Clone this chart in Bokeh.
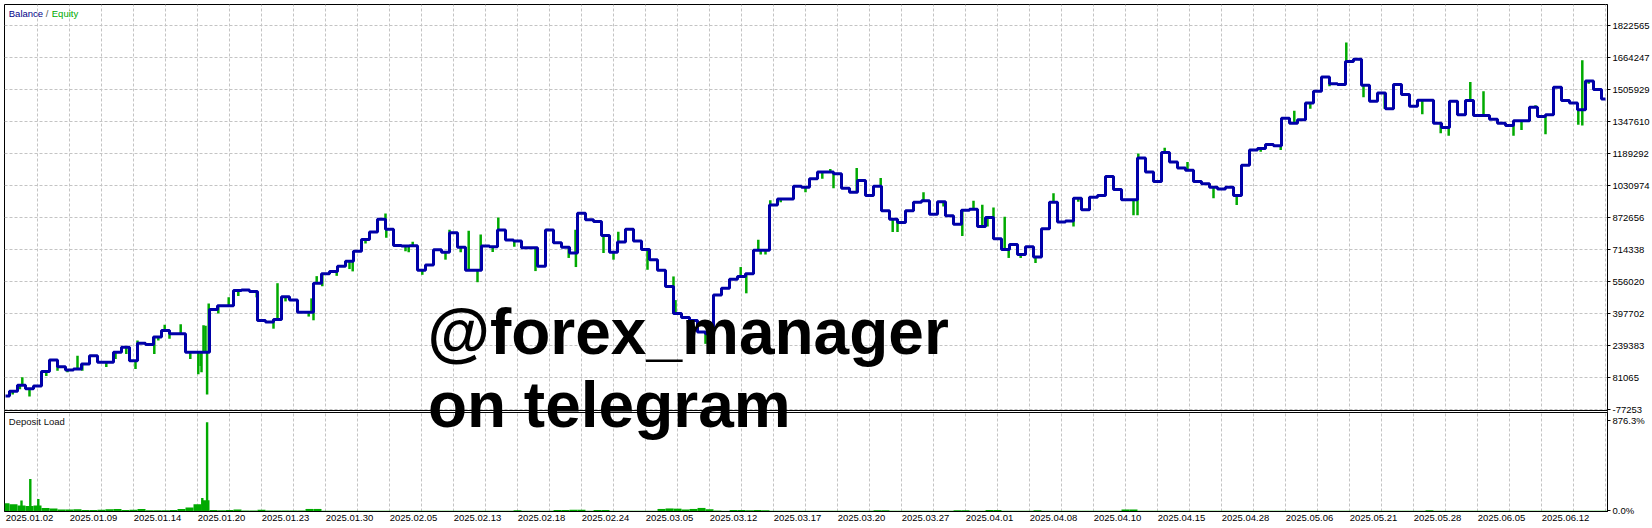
from bokeh.plotting import figure
from bokeh.models import Range1d, FixedTicker, Span, Label, BoxAnnotation
from bokeh.embed import file_html
from bokeh.resources import INLINE

# ---------------- data ----------------
balance = [
    -9935, 12565, 42565, 25065, 39065, 111065, 167565, 134065, 117565, 122565,
    147565, 189065, 156065, 156065, 206065, 231065, 164065, 251065, 244065, 281065,
    314065, 297565, 297565, 206065, 206065, 206065, 417565, 436065, 436065, 511065,
    514000, 506065, 363065, 356065, 367565, 481065, 464065, 404065, 404065, 547565,
    594065, 606065, 631065, 656065, 706065, 764065, 801065, 864065, 814065, 734065,
    731065, 732565, 611065, 637565, 712565, 701065, 797565, 726065, 611065, 611065,
    731065, 727565, 811065, 761065, 756065, 722565, 722565, 631065, 811065, 747565,
    726065, 697565, 894065, 861065, 852565, 784065, 701065, 751065, 814065, 756065,
    714065, 664065, 611065, 531065, 397565, 377565, 363065, 306065, 297565, 489065,
    522565, 567565, 581065, 594065, 711065, 711065, 934065, 964065, 964065, 1027565,
    1022565, 1064065, 1097565, 1097565, 1089065, 1017565, 997565, 1056065, 981065, 1027565,
    906065, 864065, 847565, 906065, 947565, 956065, 889065, 951065, 881065, 839065,
    909065, 914065, 827565, 872565, 767565, 714065, 739065, 689065, 727565, 677565,
    817565, 947565, 850565, 855565, 967565, 911065, 972565, 981065, 1076065, 1011065,
    961065, 961065, 1167565, 1097565, 1051065, 1194065, 1147565, 1117565, 1106065, 1051065,
    1040000, 1022565, 1014065, 1022565, 981065, 1131065, 1206065, 1214065, 1234065, 1227565,
    1364065, 1339065, 1356065, 1439065, 1497565, 1567565, 1534065, 1531065, 1644065, 1656065,
    1527565, 1447565, 1489065, 1411065, 1531065, 1481065, 1422565, 1452565, 1452565, 1339065,
    1317565, 1447565, 1381065, 1451065, 1377565, 1377565, 1359065, 1339065, 1327565, 1351065,
    1351065, 1417565, 1372565, 1381065, 1517565, 1451065, 1439065, 1406065, 1547565, 1506065,
    1459065,
]
deal = list(range(len(balance)))

# equity excursions (deal position, equity value)
equity_deal = [
    2.1, 3.0, 9.0, 16.25, 16.5, 18.6, 19.9, 21.9, 23.1, 24.1,
    24.4, 24.5, 24.75, 25.0, 25.2, 25.4, 27.9, 31.5, 33.5, 34.0,
    38.25, 38.5, 38.9, 43.4, 47.5, 47.6, 50.9, 52.1, 55.0, 55.5,
    57.9, 59.0, 59.4, 60.9, 61.6, 66.25, 67.75, 70.4, 71.25, 71.3,
    76.0, 76.6, 83.5, 83.75, 87.5, 91.9, 92.6, 94.1, 95.0, 95.6,
    103.1, 103.5, 106.4, 109.4, 111.5, 114.75, 119.6, 121.0, 122.1, 123.5,
    124.9, 125.4, 128.75, 131.0, 133.5, 141.5, 141.6, 144.9, 147.75, 151.0,
    153.9, 159.4, 161.1, 163.1, 167.6, 169.25, 180.4, 183.1, 184.75, 188.5,
    191.25, 192.5, 193.5, 197.1, 197.1, 197.9,
    0.9, 1.8, 5.1, 6.5, 7.75, 9.6, 12.6, 13.75, 15.1, 19.1,
    20.5, 26.6, 29.1, 31.4, 35.0, 36.5, 37.9, 39.6, 41.4, 43.0,
    45.0, 50.0, 50.4, 56.9, 63.6, 74.75, 80.25, 94.4, 96.9, 100.0,
    102.1, 110.9, 117.25, 122.75, 126.9, 134.1, 141.0, 156.9, 165.5, 169.75,
    172.4, 177.1, 179.4, 189.5, 196.6,
]
equity_value = [
    82565, -12435, 189065, 122565, 264065, 197565, 342565, 344065, 172565, 97565,
    137565, 107565, 339065, 337565, -2435, 447565, 477565, 447565, 322565, 547565,
    472565, 364065, 582565, 606065, 892565, 772565, 752565, 589065, 664065, 812565,
    807565, 552565, 789065, 702565, 872565, 607565, 817565, 672565, 812565, 627565,
    664065, 802565, 581065, 464065, 247565, 627565, 497565, 762565, 689065, 957565,
    1112565, 1017565, 1117565, 1067565, 801065, 997565, 781065, 956065, 936065, 922565,
    876065, 672565, 647565, 992565, 827565, 884065, 1189065, 1217565, 1147565, 967565,
    934065, 1206065, 1401065, 1411065, 1739065, 1651065, 1277565, 1542565, 1497565, 1277565,
    1427565, 1284065, 1431065, 1651065, 1327565, 1534065,
    -2435, 22565, 89065, 114065, 107565, 114065, 132565, 172565, 197565, 264065,
    272565, 397565, 484065, 477565, 457565, 447565, 382565, 532565, 584065, 617565,
    744065, 706065, 701065, 701065, 727565, 697565, 614065, 689065, 947565, 997565,
    1064065, 801065, 927565, 827565, 672565, 951065, 884065, 1197565, 1522565, 1467565,
    1411065, 1384065, 1289065, 1306065, 1331065,
]

# deposit load, %
deposit_load = [
    80, 70, 60, 55, 60, 35, 30, 20, 20, 22,
    15, 15, 18, 22, 25, 15, 18, 25, 12, 12,
    12, 15, 25, 40, 70, 110, 15, 12, 15, 20,
    10, 10, 18, 10, 10, 10, 10, 10, 25, 25,
    8, 8, 8, 8, 8, 8, 8, 8, 8, 8,
    8, 8, 8, 8, 8, 8, 8, 8, 8, 8,
    8, 8, 8, 8, 12, 8, 8, 8, 8, 15,
    15, 18, 18, 8, 15, 15, 8, 8, 8, 8,
    8, 8, 25, 30, 28, 20, 25, 35, 22, 10,
    8, 15, 15, 12, 15, 12, 8, 8, 8, 8,
    8, 8, 8, 8, 8, 8, 8, 8, 8, 12,
    12, 8, 8, 8, 8, 8, 8, 8, 8, 12,
    12, 8, 8, 15, 15, 8, 8, 8, 8, 12,
    8, 8, 8, 8, 8, 8, 8, 8, 8, 8,
    20, 20, 8, 8, 8, 8, 8, 8, 8, 8,
    8, 8, 8, 8, 8, 8, 8, 8, 8, 8,
    8, 8, 8, 8, 8, 8, 8, 8, 8, 8,
    8, 8, 8, 8, 8, 8, 8, 8, 12, 8,
    8, 8, 8, 8, 8, 8, 8, 8, 8, 8,
    8, 8, 8, 8, 8, 8, 8, 8, 8, 8,
    8,
]
load_peak_deal = [2.0, 3.1, 4.1, 24.6, 25.2]
load_peak_value = [108, 318, 122, 132, 876.3]

balance_ticks = [1822565, 1664247, 1505929, 1347610, 1189292, 1030974, 872656,
                 714338, 556020, 397702, 239383, 81065, -77253]
load_tick_labels = ["876.3%", "0.0%"]
date_labels = ["2025.01.02", "2025.01.09", "2025.01.14", "2025.01.20", "2025.01.23",
               "2025.01.30", "2025.02.05", "2025.02.13", "2025.02.18", "2025.02.24",
               "2025.03.05", "2025.03.12", "2025.03.17", "2025.03.20", "2025.03.27",
               "2025.04.01", "2025.04.08", "2025.04.10", "2025.04.15", "2025.04.28",
               "2025.05.06", "2025.05.21", "2025.05.28", "2025.06.05", "2025.06.12"]

# ---------------- styling ----------------
BLUE = "#0000A8"
GREEN = "#00AA00"
GRID = "#C4C4C4"
SMALL_FONT = "Liberation Sans"
SMALL_SIZE = "9.5px"

p = figure(frame_width=1603, frame_height=507, output_backend="svg", toolbar_location=None,
           x_range=Range1d(-0.125, 200.25), y_range=Range1d(-581891, 1926461),
           y_axis_location="right", min_border_left=0, min_border_top=0,
           min_border_right=45, min_border_bottom=17, margin=(4, 0, 0, 4))
p.extra_y_ranges = {"load": Range1d(0, 4975)}
p.background_fill_color = "white"
p.border_fill_color = "white"
p.outline_line_color = "black"
p.outline_line_width = 1

# grid
p.xgrid.ticker = FixedTicker(ticks=[4 * k for k in range(1, 51)])
p.ygrid.ticker = FixedTicker(ticks=balance_ticks)
for g in (p.xgrid[0], p.ygrid[0]):
    g.grid_line_color = GRID
    g.grid_line_dash = "3 2"
    g.grid_line_width = 1

# x axis (dates)
label_pos = [8 * i + 3 for i in range(len(date_labels))]
xa = p.xaxis[0]
xa.ticker = FixedTicker(ticks=label_pos)
xa.major_label_overrides = {t: s for t, s in zip(label_pos, date_labels)}
xa.major_tick_out = 0
xa.major_tick_in = 0
xa.minor_tick_out = 0
xa.minor_tick_in = 0
xa.major_label_standoff = 3
xa.axis_line_color = "black"
xa.major_label_text_font = SMALL_FONT
xa.major_label_text_font_size = SMALL_SIZE
xa.major_label_text_color = "black"

# right axis (balance values + deposit load labels)
load_label_pos = [-131674, -579417]
ya = p.yaxis[0]
ya.ticker = FixedTicker(ticks=balance_ticks + load_label_pos)
overrides = {t: str(t) for t in balance_ticks}
overrides.update({t: s for t, s in zip(load_label_pos, load_tick_labels)})
ya.major_label_overrides = overrides
ya.major_tick_out = 3
ya.major_tick_in = 0
ya.minor_tick_out = 0
ya.minor_tick_in = 0
ya.major_label_standoff = 2
ya.axis_line_color = "black"
ya.major_label_text_font = SMALL_FONT
ya.major_label_text_font_size = SMALL_SIZE
ya.major_label_text_color = "black"

# deposit load panel
p.vbar(x=deal, top=deposit_load, bottom=0, width=1.0, fill_color=GREEN,
       line_color=None, y_range_name="load")
p.vbar(x=load_peak_deal, top=load_peak_value, bottom=0, width=0.3, fill_color=GREEN,
       line_color=None, y_range_name="load")

# equity excursions
eq_base = [balance[int(round(d))] for d in equity_deal]
p.segment(x0=equity_deal, y0=eq_base, x1=equity_deal, y1=equity_value,
          line_color=GREEN, line_width=2.5)

# balance
p.step(deal, balance, mode="center", line_color=BLUE, line_width=3)

# panel separator (double line)
sep_top, sep_bot = -82199, -92094
p.add_layout(BoxAnnotation(bottom=sep_bot, top=sep_top, fill_color="white", fill_alpha=1.0,
                           line_color=None))
p.add_layout(Span(location=sep_top, dimension="width", line_color="black", line_width=1))
p.add_layout(Span(location=sep_bot, dimension="width", line_color="black", line_width=1))

# panel titles
title_y = 1881934
p.add_layout(Label(x=0.41, y=title_y, text="Balance", text_color="#000088",
                   text_font=SMALL_FONT, text_font_size=SMALL_SIZE, text_baseline="middle"))
p.add_layout(Label(x=0.41, y=title_y, x_offset=37, text="/", text_color="#555555",
                   text_font=SMALL_FONT, text_font_size=SMALL_SIZE, text_baseline="middle"))
p.add_layout(Label(x=0.41, y=title_y, x_offset=43, text="Equity", text_color=GREEN,
                   text_font=SMALL_FONT, text_font_size=SMALL_SIZE, text_baseline="middle"))
p.add_layout(Label(x=0.41, y=-136621, text="Deposit Load", text_color="#111111",
                   text_font=SMALL_FONT, text_font_size=SMALL_SIZE, text_baseline="middle"))

# watermark
p.add_layout(Label(x=52.75, y=308628, text="@forex_manager", text_color="black",
                   text_font="Liberation Sans", text_font_style="bold",
                   text_font_size="64px", text_baseline="middle"))
p.add_layout(Label(x=52.8, y=-55048, text="on telegram", text_color="black",
                   text_font="Liberation Sans", text_font_style="bold",
                   text_font_size="64px", text_baseline="middle"))

open("out.html", "w").write(file_html(p, INLINE))
